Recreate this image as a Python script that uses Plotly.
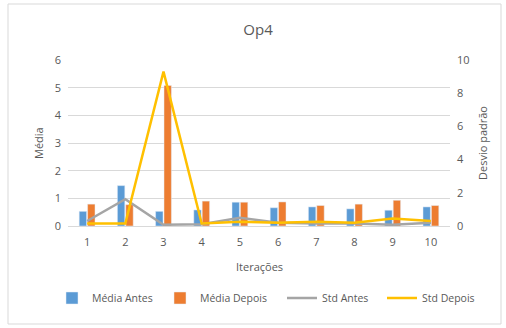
import plotly.graph_objects as go

categories = ["1", "2", "3", "4", "5", "6", "7", "8", "9", "10"]
media_antes = [0.53, 1.46, 0.53, 0.58, 0.86, 0.66, 0.69, 0.62, 0.57, 0.69]
media_depois = [0.79, 0.77, 5.08, 0.9, 0.86, 0.87, 0.74, 0.79, 0.93, 0.74]
std_antes = [0.3, 1.62, 0.08, 0.1, 0.5, 0.2, 0.15, 0.15, 0.08, 0.2]
std_depois = [0.15, 0.15, 9.3, 0.15, 0.25, 0.2, 0.25, 0.2, 0.45, 0.3]

W, H = 506, 328
L, R, T, B = 68, 56, 60, 102
font = "Open Sans"
txt = "#595959"

fig = go.Figure()
fig.add_trace(go.Bar(x=categories, y=media_antes, name="Média Antes", marker_color="#5B9BD5",
                     legend="legend"))
fig.add_trace(go.Bar(x=categories, y=media_depois, name="Média Depois", marker_color="#ED7D31",
                     legend="legend2"))
fig.add_trace(go.Scatter(x=categories, y=std_antes, name="Std Antes", mode="lines",
                         line=dict(color="#A5A5A5", width=2.5), yaxis="y2", legend="legend3"))
fig.add_trace(go.Scatter(x=categories, y=std_depois, name="Std Depois", mode="lines",
                         line=dict(color="#FFC000", width=2.5), yaxis="y2", legend="legend4"))

pw, ph = W - L - R, H - T - B
def px(x): return (x - L) / pw
def py(y): return (H - B - y) / ph

fig.add_shape(type="rect", xref="paper", yref="paper",
              x0=px(8), x1=px(501), y0=py(324), y1=py(4),
              line=dict(color="#D9D9D9", width=1), layer="below")

fig.add_annotation(text="Iterações", xref="paper", yref="paper", x=0.5, y=py(266),
                   xanchor="center", yanchor="middle", showarrow=False,
                   font=dict(size=11, color=txt))
fig.add_annotation(text="Média", xref="paper", yref="paper", x=px(38), y=0.5,
                   xanchor="center", yanchor="middle", showarrow=False, textangle=-90,
                   font=dict(size=11, color=txt))
fig.add_annotation(text="Desvio padrão", xref="paper", yref="paper", x=px(482), y=0.5,
                   xanchor="center", yanchor="middle", showarrow=False, textangle=-90,
                   font=dict(size=11, color=txt))

def leg(xpix):
    return dict(orientation="h", xref="container", x=xpix / W, xanchor="left",
                yref="container", y=(H - 298) / H, yanchor="middle",
                font=dict(size=10.5, color=txt), itemwidth=30, bgcolor="rgba(0,0,0,0)")

fig.update_layout(
    width=W, height=H,
    margin=dict(l=L, r=R, t=T, b=B, autoexpand=False),
    paper_bgcolor="white", plot_bgcolor="white",
    font=dict(family=font, color=txt, size=11),
    title=dict(text="Op4", x=0.51, xanchor="center", y=1 - 30 / H, yanchor="middle",
               font=dict(size=15, color=txt)),
    barmode="group", bargap=0.56, bargroupgap=0.12,
    xaxis=dict(showgrid=False, showline=True, linecolor="#D9D9D9", ticks="",
               automargin=False, ticklabelstandoff=6, tickfont=dict(size=11)),
    yaxis=dict(range=[0, 6], dtick=1, showgrid=True, gridcolor="#D9D9D9", zeroline=False,
               automargin=False, ticklabelstandoff=6, tickfont=dict(size=11)),
    yaxis2=dict(range=[0, 10], dtick=2, overlaying="y", side="right", showgrid=False,
                zeroline=False, automargin=False, ticklabelstandoff=6,
                tickfont=dict(size=11)),
    legend=leg(52), legend2=leg(160), legend3=leg(282), legend4=leg(382),
    showlegend=True,
)

fig.write_html("out.html")
